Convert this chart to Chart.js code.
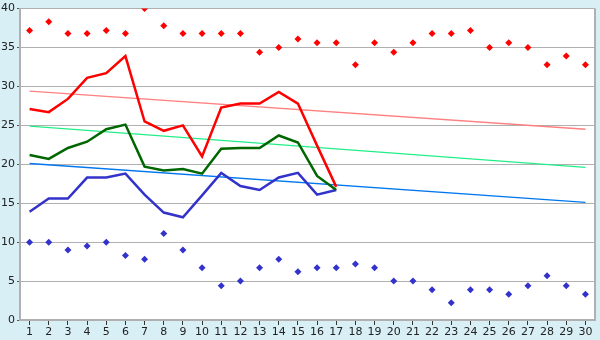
<!DOCTYPE html>
<html>
<head>
<meta charset="utf-8">
<script src="https://cdn.jsdelivr.net/npm/chart.js@4"></script>
<style>
  html, body { margin: 0; padding: 0; background: #d9eff6; }
  #wrap { width: 600px; height: 340px; position: relative; }
</style>
</head>
<body>
<div id="wrap"><canvas id="grafico"></canvas></div>
<script>
var dias = ['1','2','3','4','5','6','7','8','9','10','11','12','13','14','15','16','17','18','19','20','21','22','23','24','25','26','27','28','29','30'];

var maximas = [37.2, 38.3, 36.8, 36.8, 37.2, 36.8, 40.0, 37.8, 36.8, 36.8, 36.8, 36.8, 34.4, 35.0, 36.1, 35.6, 35.6, 32.8, 35.6, 34.4, 35.6, 36.8, 36.8, 37.2, 35.0, 35.6, 35.0, 32.8, 33.9, 32.8];
var minimas = [10.0, 10.0, 9.0, 9.5, 10.0, 8.3, 7.8, 11.1, 9.0, 6.7, 4.4, 5.0, 6.7, 7.8, 6.2, 6.7, 6.7, 7.2, 6.7, 5.0, 5.0, 3.9, 2.2, 3.9, 3.9, 3.3, 4.4, 5.7, 4.4, 3.3];

var maxReal = [27.1, 26.7, 28.4, 31.1, 31.7, 33.9, 25.5, 24.3, 25.0, 21.0, 27.3, 27.8, 27.8, 29.3, 27.8, 22.4, 17.1];
var mediaReal = [21.2, 20.7, 22.1, 22.9, 24.5, 25.1, 19.7, 19.2, 19.4, 18.8, 22.0, 22.1, 22.1, 23.7, 22.8, 18.5, 16.7];
var minReal = [13.9, 15.6, 15.6, 18.3, 18.3, 18.8, 16.1, 13.8, 13.2, 16.0, 18.9, 17.2, 16.7, 18.3, 18.9, 16.1, 16.7];

// tendências: só o início (dia 1) e o fim (dia 30)
var tendMax = [29.4, 24.5];
var tendMedia = [24.9, 19.6];
var tendMin = [20.1, 15.1];

function pontas(par) {
    var d = dias.map(function() { return null; });
    d[0] = par[0];
    d[dias.length - 1] = par[1];
    return d;
}

var fundoBranco = {
    id: 'fundoBranco',
    beforeDraw: function(chart) {
        var a = chart.chartArea, c = chart.ctx;
        c.save();
        c.fillStyle = '#ffffff';
        c.fillRect(a.left, a.top, a.right - a.left, a.bottom - a.top);
        c.strokeStyle = '#b0b0b0';
        c.lineWidth = 2;
        c.beginPath();
        c.moveTo(a.right, a.top);
        c.lineTo(a.right, a.bottom);
        c.stroke();
        c.restore();
    }
};

var ctx = document.getElementById('grafico').getContext('2d');
new Chart(ctx, {
    type: 'line',
    data: {
        labels: dias,
        datasets: [
            { label: 'Máx', data: maxReal, borderColor: '#ff0000', borderWidth: 2.5, pointRadius: 0, order: 1 },
            { label: 'Média', data: mediaReal, borderColor: '#006600', borderWidth: 2.5, pointRadius: 0, order: 1 },
            { label: 'Mín', data: minReal, borderColor: '#3333cc', borderWidth: 2.5, pointRadius: 0, order: 1 },
            { label: 'Máx abs', data: maximas, showLine: false, pointStyle: 'rectRot', pointRadius: 3.5, backgroundColor: '#ff0000', borderColor: '#ff0000', borderWidth: 0, order: 2 },
            { label: 'Mín abs', data: minimas, showLine: false, pointStyle: 'rectRot', pointRadius: 3.5, backgroundColor: '#3333cc', borderColor: '#3333cc', borderWidth: 0, order: 2 },
            { label: 'Tend máx', data: pontas(tendMax), spanGaps: true, borderColor: '#ff8080', borderWidth: 1.3, pointRadius: 0, order: 3 },
            { label: 'Tend média', data: pontas(tendMedia), spanGaps: true, borderColor: '#22ee88', borderWidth: 1.3, pointRadius: 0, order: 3 },
            { label: 'Tend mín', data: pontas(tendMin), spanGaps: true, borderColor: '#0077ee', borderWidth: 1.3, pointRadius: 0, order: 3 }
        ]
    },
    options: {
        responsive: true,
        maintainAspectRatio: false,
        animation: false,
        layout: { padding: { top: 5, right: 5, left: 0, bottom: 0 } },
        plugins: { legend: { display: false }, tooltip: { enabled: false } },
        scales: {
            x: {
                offset: true,
                grid: { display: true, drawOnChartArea: false, drawTicks: true, tickLength: 5, color: '#333333', offset: false },
                border: { color: '#b0b0b0', width: 2 },
                ticks: { color: '#222', font: { family: 'DejaVu Sans', size: 11 }, padding: 1, maxRotation: 0, autoSkip: false },
                afterFit: function(s) { s.height = 20; }
            },
            y: {
                min: 0,
                max: 40,
                grid: { color: '#b0b0b0', lineWidth: 1, tickLength: 3, tickColor: '#555' },
                border: { color: '#b0b0b0', width: 2 },
                ticks: { stepSize: 5, color: '#222', font: { family: 'DejaVu Sans', size: 11 }, padding: 2 },
                afterFit: function(s) { s.width = 20; }
            }
        }
    },
    plugins: [fundoBranco]
});
</script>
</body>
</html>
